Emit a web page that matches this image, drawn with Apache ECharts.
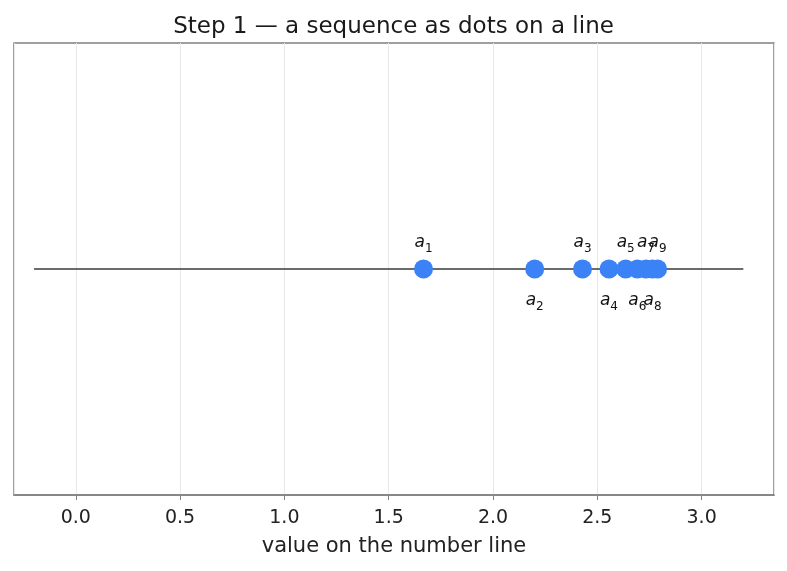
<!DOCTYPE html>
<html>
<head>
<meta charset="utf-8">
<script src="https://cdn.jsdelivr.net/npm/echarts@6/dist/echarts.min.js"></script>
<style>
html,body{margin:0;padding:0;background:#fff;}
#c{width:787px;height:571px;}
</style>
</head>
<body>
<div id="c"></div>
<script>
const indices = [1, 2, 3, 4, 5, 6, 7, 8, 9];
const values = [1.667, 2.2, 2.429, 2.556, 2.636, 2.692, 2.733, 2.765, 2.789];
const lineEnds = [-0.2, 3.2];
const tickLabels = ['0.0', '0.5', '1.0', '1.5', '2.0', '2.5', '3.0'];

const chart = echarts.init(document.getElementById('c'), null, {renderer: 'canvas'});
const font = 'DejaVu Sans';
const rich = {
  a: {fontFamily: font, fontStyle: 'italic', fontSize: 17, color: '#111', lineHeight: 19, verticalAlign: 'top'},
  s: {fontFamily: font, fontSize: 12, color: '#111', lineHeight: 13, padding: [8, 0, 0, 0], verticalAlign: 'top'}
};
const pts = values.map((v, i) => ({
  value: [v, 0],
  label: {
    position: (indices[i] % 2 === 1) ? 'top' : 'bottom',
    distance: (indices[i] % 2 === 1) ? 6 : 14
  }
}));

chart.setOption({
  animation: false,
  title: {
    text: 'Step 1 — a sequence as dots on a line',
    left: 'center', top: 11,
    textStyle: {fontFamily: font, fontSize: 23, fontWeight: 'normal', color: '#1a1a1a'}
  },
  grid: {left: 14, right: 13, top: 43, bottom: 76, show: true, borderColor: '#808080', borderWidth: 1.5, backgroundColor: 'transparent'},
  xAxis: {
    type: 'value', min: -0.296, max: 3.347,
    minInterval: 0.5, maxInterval: 0.5,
    axisLine: {show: true, onZero: false, lineStyle: {color: '#808080', width: 1.5}},
    axisTick: {show: true, inside: false, length: 5, lineStyle: {color: '#808080', width: 1}},
    axisLabel: {
      showMinLabel: false, showMaxLabel: false, margin: 14,
      fontFamily: font, fontSize: 19, color: '#222',
      formatter: v => {
        const k = Math.round(v / 0.5);
        return (Math.abs(v - k * 0.5) < 1e-6 && k >= 0 && k < tickLabels.length) ? tickLabels[k] : '';
      }
    },
    splitLine: {show: true, lineStyle: {color: '#e6e8ec', width: 1}},
    name: 'value on the number line', nameLocation: 'middle', nameGap: 41,
    nameTextStyle: {fontFamily: font, fontSize: 21, color: '#222'}
  },
  yAxis: {type: 'value', min: -1, max: 1, show: false},
  series: [
    {
      type: 'line', data: lineEnds.map(x => [x, 0]), symbol: 'none',
      lineStyle: {color: '#6b6b6b', width: 2}, z: 2, silent: true
    },
    {
      type: 'scatter', data: pts, symbolSize: 19,
      itemStyle: {color: '#3b82f6', opacity: 1}, z: 3,
      label: {
        show: true,
        formatter: p => '{a|a}{s|' + indices[p.dataIndex] + '}',
        rich: rich
      },
      labelLayout: {hideOverlap: false}
    }
  ]
});
</script>
</body>
</html>
